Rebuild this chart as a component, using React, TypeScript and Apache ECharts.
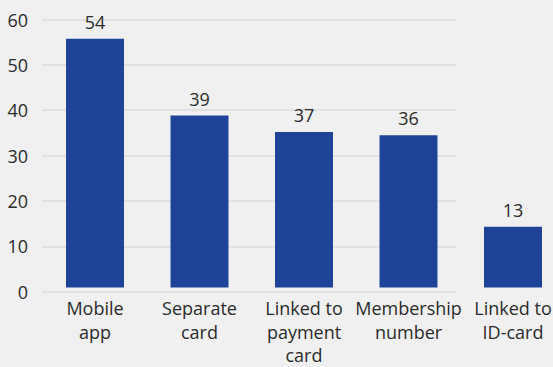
import React, { useEffect, useRef } from "react";
import * as echarts from "echarts";

const categories = ["Mobile\napp", "Separate\ncard", "Linked to\npayment\ncard", "Membership\nnumber", "Linked to\nID-card"];
const barHeights = [55.7, 38.5, 34.8, 34.1, 13.6];
const valueLabels = ["54", "39", "37", "36", "13"];
const yTicks = [0, 10, 20, 30, 40, 50, 60];

const FONT = "'Open Sans', Lato, sans-serif";
const TEXT = "#2b2b2b";
const WEIGHT = 500;

export default function App() {
  const ref = useRef<HTMLDivElement>(null);
  useEffect(() => {
    if (!ref.current) return;
    const chart = echarts.init(ref.current, undefined, { renderer: "svg" });
    chart.setOption({
      animation: false,
      backgroundColor: "#f0f0f0",
      textStyle: { fontFamily: FONT },
      grid: [
        { left: 42, top: 19.5, width: 414, height: 272.2, containLabel: false },
        { left: 42.75, top: 19.5, width: 522.5, height: 272.2, containLabel: false },
      ],
      xAxis: [
        { type: "value", gridIndex: 0, min: 0, max: 1, show: false },
        {
          type: "category",
          gridIndex: 1,
          data: categories,
          axisLine: { show: false },
          axisTick: { show: false },
          axisLabel: {
            color: TEXT,
            fontSize: 18,
            fontWeight: WEIGHT,
            lineHeight: 23.5,
            margin: 9,
            interval: 0,
            fontFamily: FONT,
          },
        },
      ],
      yAxis: [
        {
          type: "value",
          gridIndex: 0,
          min: yTicks[0],
          max: yTicks[yTicks.length - 1],
          interval: 10,
          axisLine: { show: false },
          axisTick: { show: false },
          axisLabel: { color: TEXT, fontSize: 18, fontWeight: WEIGHT, margin: 14, fontFamily: FONT },
          splitLine: { show: true, lineStyle: { color: "#dcdcdc", width: 1.5 } },
        },
        {
          type: "value",
          gridIndex: 1,
          min: yTicks[0],
          max: yTicks[yTicks.length - 1],
          interval: 10,
          show: false,
          splitLine: { show: false },
        },
      ],
      series: [
        {
          type: "bar",
          xAxisIndex: 1,
          yAxisIndex: 1,
          data: barHeights,
          barWidth: 58,
          itemStyle: { color: "#1f4397" },
          label: {
            show: true,
            position: "top",
            distance: 8,
            color: TEXT,
            fontSize: 18,
            fontWeight: WEIGHT,
            fontFamily: FONT,
            formatter: (p: any) => valueLabels[p.dataIndex],
          },
        },
      ],
    });
    return () => chart.dispose();
  }, []);
  return (
    <div
      style={{ position: "absolute", left: 0, top: 0, width: 553, height: 367, overflow: "hidden", background: "#f0f0f0" }}
    >
      <div ref={ref} style={{ width: 600, height: 367 }} />
    </div>
  );
}
